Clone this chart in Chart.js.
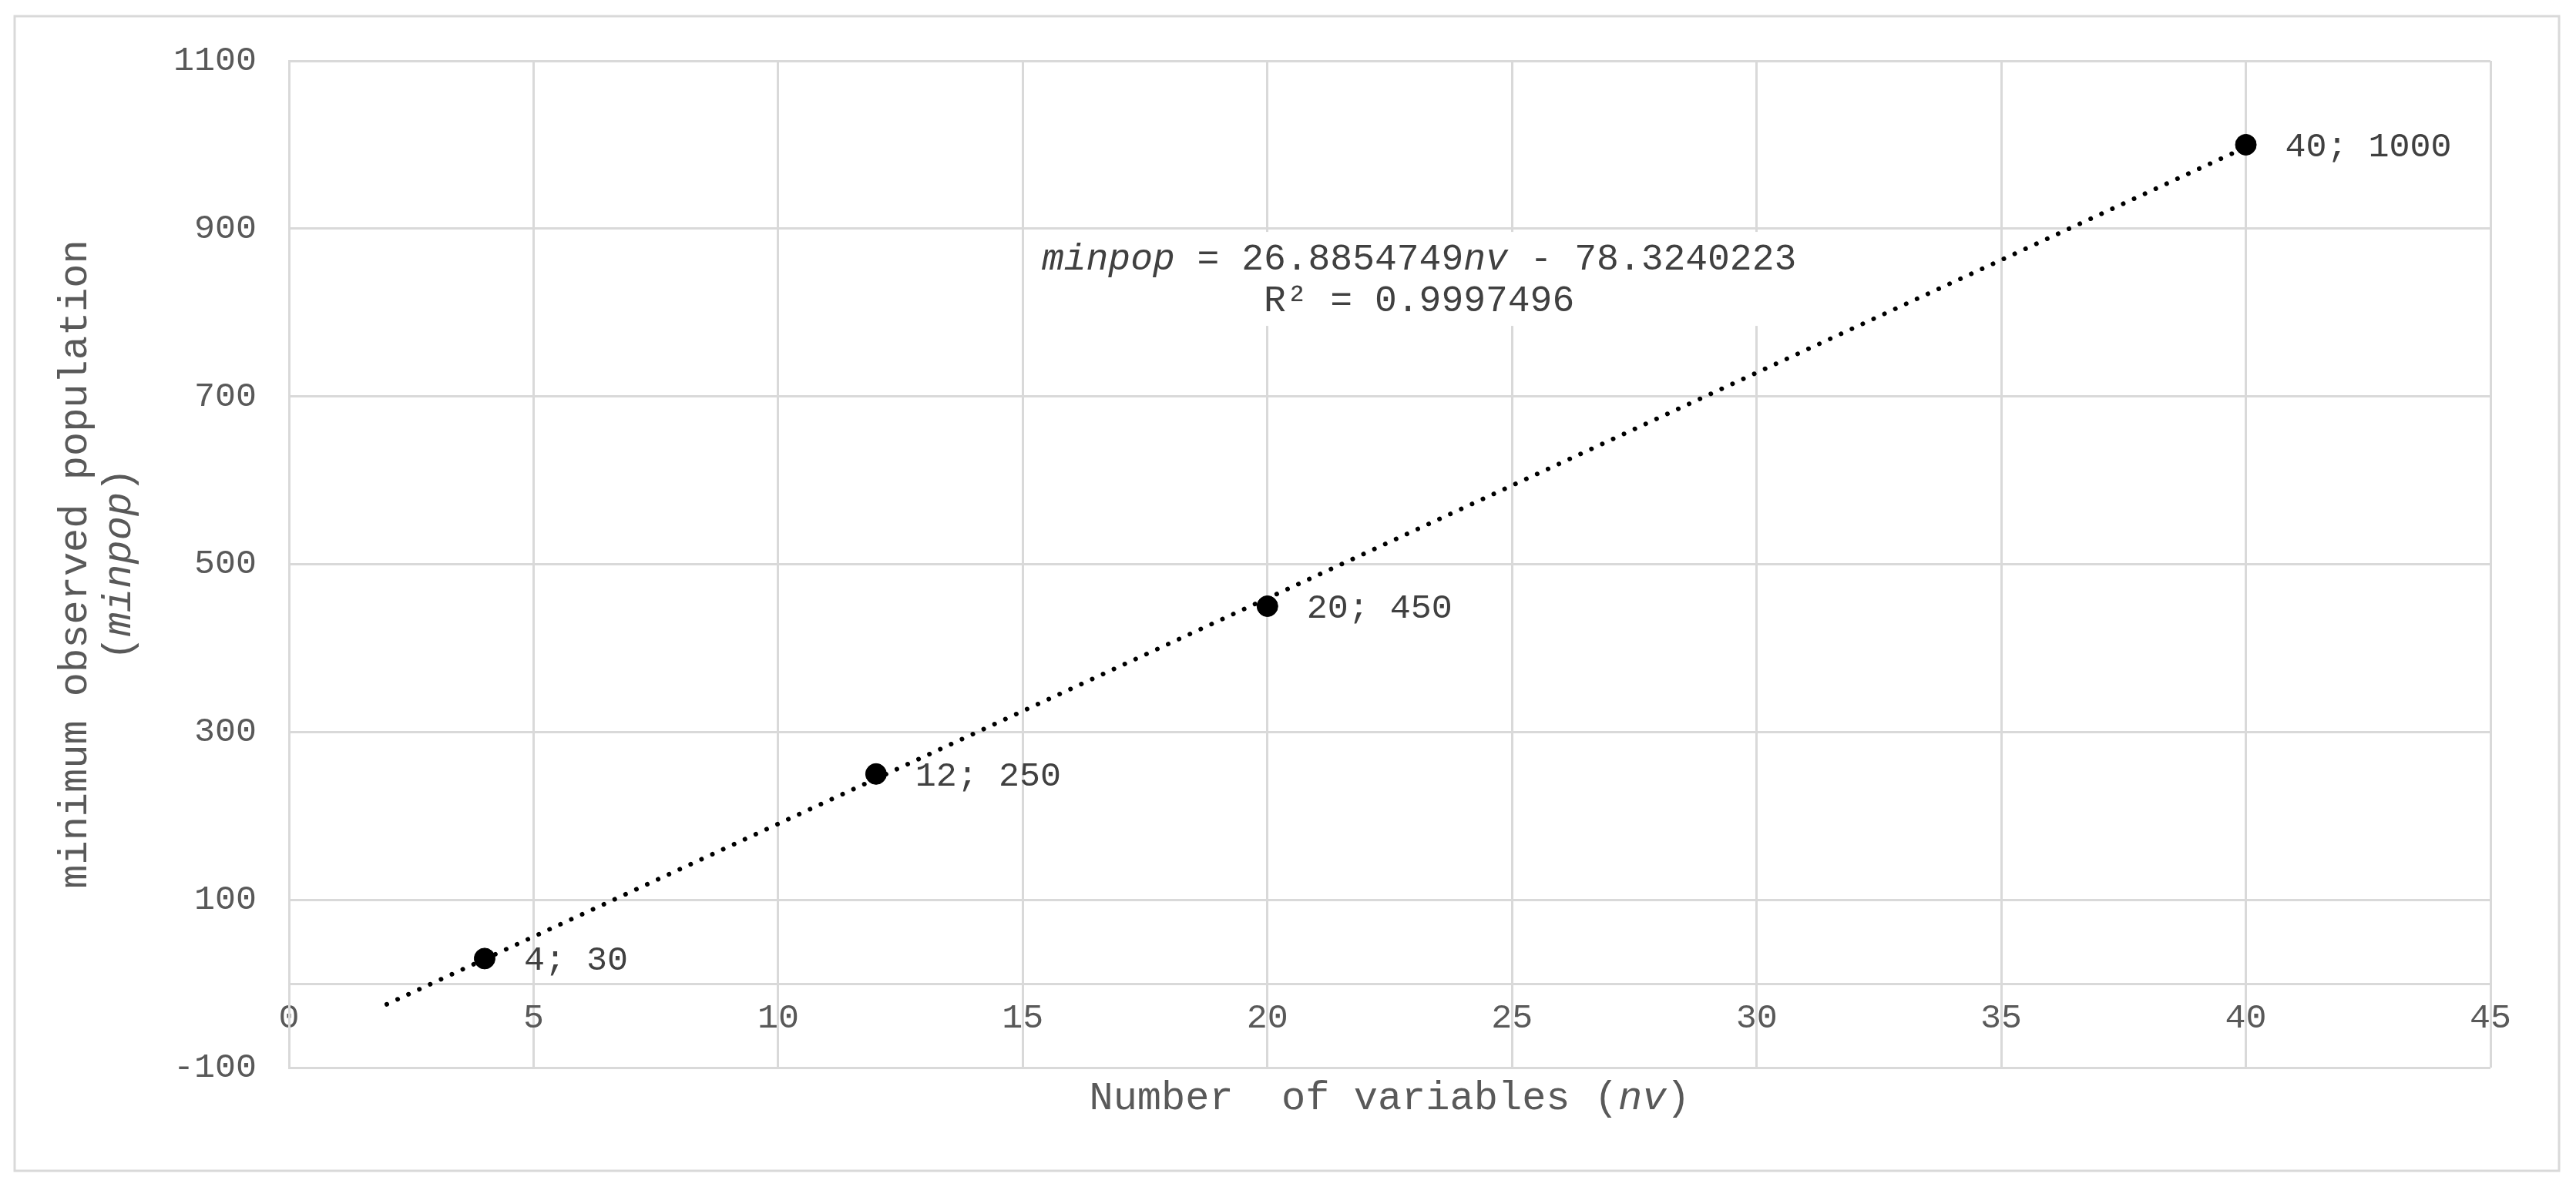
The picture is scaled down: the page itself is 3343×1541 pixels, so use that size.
<!DOCTYPE html>
<html>
<head>
<meta charset="utf-8">
<script src="https://cdn.jsdelivr.net/npm/chart.js@4/dist/chart.umd.min.js"></script>
<style>
html,body{margin:0;padding:0;background:#fff;overflow:hidden}
canvas{display:block}
</style>
</head>
<body>
<canvas id="c" width="3343" height="1541"></canvas>
<script>
// ---- data ----
const nvValues = [4, 12, 20, 40];
const minpopValues = [30, 250, 450, 1000];
const pointLabels = ['4; 30', '12; 250', '20; 450', '40; 1000'];
const trendRange = [2, 40];
const xRange = [0, 45];
const xStep = 5;
const yRange = [-100, 1100];
const yStep = 200;
const equationLine1 = [['minpop', true], [' = 26.8854749', false], ['nv', true], [' - 78.3240223', false]];
const equationLine2 = [['R\u00B2 = 0.9997496', false]];
const xTitle = [['Number  of variables (', false], ['nv', true], [')', false]];
const yTitle1 = [['minimum observed population', false]];
const yTitle2 = [['(', false], ['minpop', true], [')', false]];

// ---- linear regression of the observed points (the trendline) ----
function linReg(xs, ys) {
  const n = xs.length;
  const mx = xs.reduce((a, b) => a + b, 0) / n;
  const my = ys.reduce((a, b) => a + b, 0) / n;
  let sxy = 0, sxx = 0;
  for (let i = 0; i < n; i++) { sxy += (xs[i] - mx) * (ys[i] - my); sxx += (xs[i] - mx) * (xs[i] - mx); }
  const slope = sxy / sxx;
  return { slope, intercept: my - slope * mx };
}
const fit = linReg(nvValues, minpopValues);
const trendData = trendRange.map(x => ({ x, y: fit.slope * x + fit.intercept }));
const pointData = nvValues.map((x, i) => ({ x, y: minpopValues[i] }));

const FONT = '"Liberation Mono", "Courier New", monospace';
const TICK_COLOR = '#595959';
const LABEL_COLOR = '#404040';
const GRID = '#d9d9d9';

function drawRich(ctx, segs, x, y, size, color) {
  ctx.save();
  ctx.fillStyle = color;
  ctx.textBaseline = 'alphabetic';
  ctx.textAlign = 'left';
  let total = 0;
  const widths = segs.map(([t, it]) => {
    ctx.font = (it ? 'italic ' : '') + size + 'px ' + FONT;
    const w = ctx.measureText(t).width;
    total += w;
    return w;
  });
  let cx = x - total / 2;
  segs.forEach(([t, it], i) => {
    ctx.font = (it ? 'italic ' : '') + size + 'px ' + FONT;
    ctx.fillText(t, cx, y);
    cx += widths[i];
  });
  ctx.restore();
  return total;
}
function richWidth(ctx, segs, size) {
  ctx.save();
  let total = 0;
  segs.forEach(([t, it]) => { ctx.font = (it ? 'italic ' : '') + size + 'px ' + FONT; total += ctx.measureText(t).width; });
  ctx.restore();
  return total;
}

const decor = {
  id: 'decor',
  beforeDraw(chart) {
    const ctx = chart.ctx;
    ctx.save();
    ctx.fillStyle = '#fff';
    ctx.fillRect(0, 0, chart.width, chart.height);
    ctx.strokeStyle = GRID;
    ctx.lineWidth = 3;
    ctx.strokeRect(19, 21, chart.width - 41, chart.height - 42);
    ctx.restore();
  },
  afterDatasetsDraw(chart) {
    const ctx = chart.ctx;
    // data labels
    const meta = chart.getDatasetMeta(0);
    ctx.save();
    ctx.font = '45px ' + FONT;
    ctx.fillStyle = LABEL_COLOR;
    ctx.textAlign = 'left';
    ctx.textBaseline = 'alphabetic';
    meta.data.forEach((el, i) => {
      ctx.fillText(pointLabels[i], el.x + 51, el.y + 15);
    });
    ctx.restore();
    // trendline equation box
    const xs = chart.scales.x, ys = chart.scales.y;
    const cx = xs.getPixelForValue(23.1);
    const cy = ys.getPixelForValue(841);
    const size = 48;
    const w = Math.max(richWidth(ctx, equationLine1, size), richWidth(ctx, equationLine2, size));
    ctx.save();
    ctx.fillStyle = '#fff';
    ctx.fillRect(cx - w / 2 - 8, cy - 60, w + 16, 122);
    ctx.restore();
    drawRich(ctx, equationLine1, cx, cy - 11, size, LABEL_COLOR);
    drawRich(ctx, equationLine2, cx, cy + 43, size, LABEL_COLOR);
  },
  afterDraw(chart) {
    const ctx = chart.ctx;
    const a = chart.chartArea;
    const midX = (a.left + a.right) / 2;
    const midY = (a.top + a.bottom) / 2;
    drawRich(ctx, xTitle, midX, a.bottom + 54, 52, TICK_COLOR);
    ctx.save();
    ctx.translate(112, midY);
    ctx.rotate(-Math.PI / 2);
    drawRich(ctx, yTitle1, 0, 0, 52, TICK_COLOR);
    ctx.restore();
    ctx.save();
    ctx.translate(169, midY);
    ctx.rotate(-Math.PI / 2);
    drawRich(ctx, yTitle2, 0, 0, 52, TICK_COLOR);
    ctx.restore();
  }
};

new Chart(document.getElementById('c'), {
  type: 'scatter',
  data: {
    datasets: [
      {
        label: 'minpop',
        data: pointData,
        backgroundColor: '#000',
        borderColor: '#000',
        pointRadius: 13.5,
        pointBorderWidth: 1,
        showLine: false
      },
      {
        label: 'trend',
        data: trendData,
        showLine: true,
        borderColor: '#000',
        borderWidth: 6,
        borderDash: [0.01, 15.5],
        borderCapStyle: 'round',
        pointRadius: 0,
        fill: false
      }
    ]
  },
  options: {
    responsive: false,
    animation: false,
    devicePixelRatio: 1,
    layout: { padding: { left: 0, top: 79, right: 111, bottom: 155 } },
    plugins: { legend: { display: false }, tooltip: { enabled: false } },
    scales: {
      x: {
        type: 'linear',
        position: { y: 0 },
        min: xRange[0], max: xRange[1],
        ticks: { stepSize: xStep, padding: 18, color: TICK_COLOR, font: { family: FONT, size: 45 }, maxRotation: 0, autoSkip: false, callback: v => String(v) },
        grid: { color: GRID, lineWidth: 3, drawTicks: false },
        border: { color: GRID, width: 3 }
      },
      y: {
        type: 'linear',
        min: yRange[0], max: yRange[1],
        ticks: { stepSize: yStep, padding: 42, color: TICK_COLOR, font: { family: FONT, size: 45 }, callback: v => String(v) },
        grid: { color: GRID, lineWidth: 3, drawTicks: false },
        border: { color: GRID, width: 3 },
        afterFit(s) { s.width = 375; }
      }
    }
  },
  plugins: [decor]
});
</script>
</body>
</html>
